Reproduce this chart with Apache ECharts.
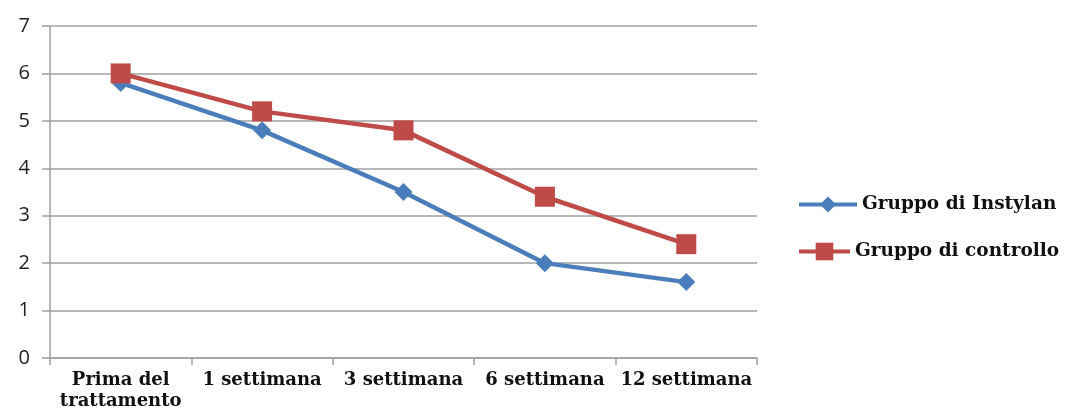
<!DOCTYPE html>
<html>
<head>
<meta charset="utf-8">
<script src="https://cdn.jsdelivr.net/npm/echarts@6/dist/echarts.min.js"></script>
<style>
  html, body { margin: 0; padding: 0; background: #fff; }
  #chart { width: 1065px; height: 412px; }
</style>
</head>
<body>
<div id="chart"></div>
<script>
// Time points of the study
const categories = ['Prima del\ntrattamento', '1 settimana', '3 settimana', '6 settimana', '12 settimana'];
// Mean scores per group
const instylanValues = [5.8, 4.8, 3.5, 2.0, 1.6];
const controlloValues = [6.0, 5.2, 4.8, 3.4, 2.4];
const seriesNames = ['Gruppo di Instylan', 'Gruppo di controllo'];
const yTicks = [0, 1, 2, 3, 4, 5, 6, 7];

const BLUE = '#4A7EBB';
const RED = '#BE4B48';
const AXIS = '#A0A0A0';
const serif = '"DejaVu Serif", "Liberation Serif", serif';

const chart = echarts.init(document.getElementById('chart'), null, { renderer: 'canvas' });

const legendText = { fontFamily: serif, fontWeight: 'bold', fontSize: 18.5, color: '#111' };

chart.setOption({
  animation: false,
  backgroundColor: '#fff',
  grid: { left: 50, right: 308, top: 26, bottom: 54 },
  legend: [
    {
      data: [seriesNames[0]], left: 797, top: 195, orient: 'vertical', padding: 0,
      itemWidth: 58, itemHeight: 20, itemGap: 6, textStyle: legendText,
      lineStyle: { width: 4 }
    },
    {
      data: [seriesNames[1]], left: 797, top: 242, orient: 'vertical', padding: 0,
      itemWidth: 51, itemHeight: 22, itemGap: 2, textStyle: legendText,
      lineStyle: { width: 4 }
    }
  ],
  xAxis: {
    type: 'category',
    data: categories,
    boundaryGap: true,
    axisLine: { lineStyle: { color: AXIS, width: 1.5 } },
    axisTick: { show: true, length: 7, alignWithLabel: false, lineStyle: { color: AXIS, width: 1.5 } },
    axisLabel: {
      interval: 0, margin: 12, fontFamily: serif, fontWeight: 'bold', fontSize: 18,
      color: '#111', lineHeight: 21
    }
  },
  yAxis: {
    type: 'value',
    min: yTicks[0],
    max: yTicks[yTicks.length - 1],
    interval: 1,
    axisLine: { show: true, lineStyle: { color: AXIS, width: 1.5 } },
    axisTick: { show: true, length: 8, lineStyle: { color: AXIS, width: 1.5 } },
    splitLine: { lineStyle: { color: AXIS, width: 1.5 } },
    axisLabel: { margin: 20, fontFamily: '"Open Sans", "Noto Sans", sans-serif', fontSize: 20, color: '#222' }
  },
  series: [
    {
      name: seriesNames[0], type: 'line', data: instylanValues,
      symbol: 'diamond', symbolSize: 18,
      lineStyle: { color: BLUE, width: 4.5 },
      itemStyle: { color: BLUE },
      z: 2
    },
    {
      name: seriesNames[1], type: 'line', data: controlloValues,
      symbol: 'rect', symbolSize: 20,
      lineStyle: { color: RED, width: 4.5 },
      itemStyle: { color: RED },
      z: 3
    }
  ]
});
</script>
</body>
</html>
